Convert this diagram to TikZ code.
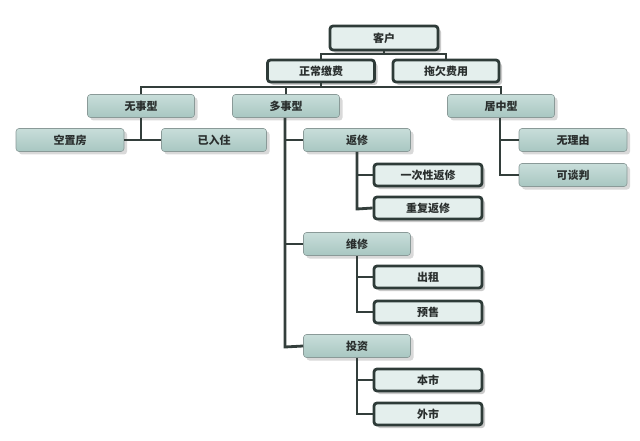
\documentclass[tikz,border=0pt]{standalone}
\usepackage{fontspec}
\setmainfont{Noto Sans CJK SC}
\usetikzlibrary{shadows}
\definecolor{lineC}{HTML}{333E3B}
\definecolor{thkB}{HTML}{2E3B38}
\definecolor{thkF}{HTML}{E4EFED}
\definecolor{thnB}{HTML}{8A9A98}
\definecolor{thnT}{HTML}{C8DEDA}
\definecolor{thnBot}{HTML}{A8C6C1}
\definecolor{txtC}{HTML}{2A2F2E}
\tikzset{
  thick box/.style={draw=thkB, line width=2.8pt, fill=thkF, rounded corners=3pt,
    minimum width=106pt, minimum height=22pt, inner sep=0pt, text=txtC,
    font=\fontsize{11}{13}\selectfont\bfseries,
    drop shadow={shadow xshift=3pt, shadow yshift=-3pt, opacity=0.35, fill=black!60}},
  thin box/.style={draw=thnB, line width=0.6pt, top color=thnT, bottom color=thnBot,
    rounded corners=3pt, minimum width=107pt, minimum height=23pt, inner sep=0pt, text=txtC,
    font=\fontsize{11}{13}\selectfont\bfseries,
    drop shadow={shadow xshift=3pt, shadow yshift=-3pt, opacity=0.3, fill=black!50}},
  conn/.style={draw=lineC, line width=2.8pt}
}
\begin{document}
\begin{tikzpicture}[x=1pt,y=-1pt]
\useasboundingbox (0,0) rectangle (640,441);
\coordinate (j0) at (384,54);
\coordinate (j1) at (321,87);
\coordinate (d) at (285,347);
\coordinate (f1) at (357,209);
\coordinate (f2) at (357,312);
\coordinate (f3) at (357,414);
\coordinate (j2) at (500,175);
\coordinate (j3) at (141,140);

\node[thick box, minimum width=108pt, minimum height=24pt] (kh) at (384,38) {客户};
\node[thick box, minimum width=107pt] (zc) at (321,71) {正常缴费};
\node[thick box, minimum width=106pt] (tq) at (446,71) {拖欠费用};

\node[thin box] (wsx) at (141,106) {无事型};
\node[thin box] (dsx) at (286,106) {多事型};
\node[thin box] (jzx) at (501,106) {居中型};

\node[thin box, minimum width=108pt] (kzf) at (70,140) {空置房};
\node[thin box, minimum width=105pt] (yrz) at (214,140) {已入住};

\node[thin box] (fx) at (357,140) {返修};
\node[thin box] (wx) at (357,244) {维修};
\node[thin box] (tz) at (357,346) {投资};

\node[thick box, minimum width=108pt] (yc) at (428,175) {一次性返修};
\node[thick box, minimum width=108pt] (cf) at (428,208) {重复返修};
\node[thick box, minimum width=108pt] (cz) at (428,277) {出租};
\node[thick box, minimum width=108pt] (ys) at (428,312) {预售};
\node[thick box, minimum width=108pt] (bs) at (428,380) {本市};
\node[thick box, minimum width=108pt] (ws) at (428,414) {外市};

\node[thin box, minimum width=108pt] (wly) at (573,140) {无理由};
\node[thin box, minimum width=108pt] (ktp) at (573,175) {可谈判};

% connectors
\draw[conn] (kh.south) -- (j0);
\draw[conn] (zc.north) |- (j0) -| (tq.north);
\draw[conn] (zc.south) -- (j1);
\draw[conn] (wsx.north) |- (j1) -| (jzx.north);
\draw[conn] (dsx.north) -- (dsx.north |- j1);
\draw[conn] (wsx.south) -- (j3);
\draw[conn] (kzf.east) -- (yrz.west);
\draw[conn] (dsx.south -| d) -- (d) -- (tz.west);
\draw[conn] (fx.west -| d) -- (fx.west);
\draw[conn] (wx.west -| d) -- (wx.west);
\draw[conn] (fx.south) -- (f1) -- (cf.west);
\draw[conn] (yc.west -| f1) -- (yc.west);
\draw[conn] (wx.south) -- (f2) -- (ys.west);
\draw[conn] (cz.west -| f2) -- (cz.west);
\draw[conn] (tz.south) -- (f3) -- (ws.west);
\draw[conn] (bs.west -| f3) -- (bs.west);
\draw[conn] (jzx.south -| j2) -- (j2) -- (ktp.west);
\draw[conn] (wly.west -| j2) -- (wly.west);
\end{tikzpicture}
\end{document}
